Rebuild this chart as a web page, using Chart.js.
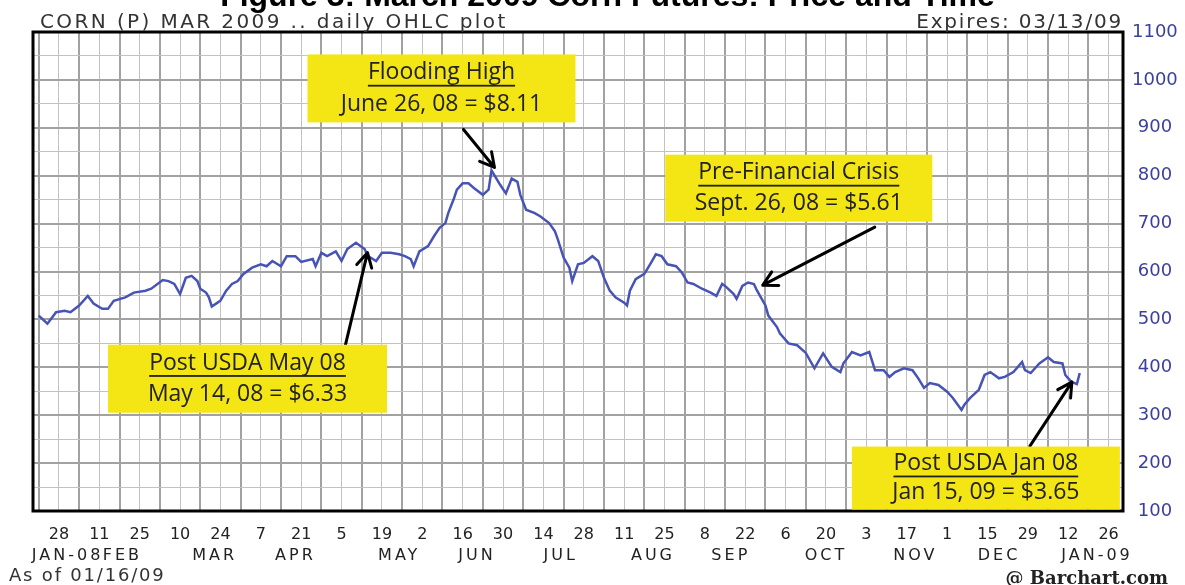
<!DOCTYPE html>
<html>
<head>
<meta charset="utf-8">
<script src="https://cdn.jsdelivr.net/npm/chart.js@4.4.0/dist/chart.umd.min.js"></script>
<style>
body { margin: 0; background: #fff; }
#wrap { position: relative; width: 1185px; height: 585px; overflow: hidden; }
canvas { position: absolute; left: 0; top: 0; }
.lbl { position: absolute; white-space: nowrap; line-height: 1; color: #333; font-family: "DejaVu Sans", sans-serif; }
#title { left: 0; width: 1215px; text-align: center; top: -23px; font: bold 32px "Liberation Sans", Arial, sans-serif; color: #000; }
#head { left: 40px; top: 11px; font-size: 20px; letter-spacing: 2.4px; }
#exp { right: 62px; top: 11px; font-size: 20px; letter-spacing: 1.8px; }
#asof { left: 9px; top: 566px; font-size: 18px; letter-spacing: 1.8px; }
#bc { right: 17px; top: 567px; font: bold 18px "DejaVu Serif", serif; color: #222; }
</style>
</head>
<body>
<div id="wrap">
  <canvas id="chart" width="1185" height="585"></canvas>
  <div class="lbl" id="title">Figure 3: March 2009 Corn Futures: Price and Time</div>
  <div class="lbl" id="head">CORN (P) MAR 2009 .. daily OHLC plot</div>
  <div class="lbl" id="exp">Expires: 03/13/09</div>
  <div class="lbl" id="asof">As of 01/16/09</div>
  <div class="lbl" id="bc">@ Barchart.com</div>
</div>
<script>
// price in cents/bushel
const priceDates = [
  "01/21/08","01/24/08","01/27/08","01/30/08","02/01/08","02/04/08","02/07/08","02/09/08","02/12/08","02/14/08",
  "02/16/08","02/20/08","02/23/08","02/27/08","02/29/08","03/04/08","03/06/08","03/08/08","03/10/08","03/12/08",
  "03/14/08","03/16/08","03/17/08","03/19/08","03/20/08","03/21/08","03/23/08","03/24/08","03/26/08","03/28/08",
  "03/30/08","04/01/08","04/04/08","04/07/08","04/09/08","04/11/08","04/14/08","04/16/08","04/19/08","04/21/08",
  "04/25/08","04/26/08","04/28/08","04/30/08","05/03/08","05/05/08","05/07/08","05/10/08","05/13/08","05/14/08",
  "05/17/08","05/19/08","05/22/08","05/25/08","05/27/08","05/29/08","05/30/08","06/01/08","06/04/08","06/06/08",
  "06/08/08","06/10/08","06/11/08","06/13/08","06/14/08","06/16/08","06/18/08","06/20/08","06/23/08","06/25/08",
  "06/26/08","06/29/08","07/01/08","07/03/08","07/05/08","07/06/08","07/08/08","07/11/08","07/13/08","07/16/08",
  "07/18/08","07/19/08","07/21/08","07/23/08","07/24/08","07/26/08","07/28/08","07/31/08","08/02/08","08/04/08",
  "08/06/08","08/08/08","08/11/08","08/12/08","08/13/08","08/15/08","08/18/08","08/20/08","08/22/08","08/24/08",
  "08/26/08","08/29/08","08/31/08","09/02/08","09/04/08","09/07/08","09/10/08","09/12/08","09/14/08","09/15/08",
  "09/18/08","09/19/08","09/21/08","09/23/08","09/25/08","09/26/08","09/29/08","09/30/08","10/03/08","10/04/08",
  "10/07/08","10/10/08","10/13/08","10/16/08","10/19/08","10/22/08","10/25/08","10/26/08","10/29/08","11/01/08",
  "11/04/08","11/06/08","11/09/08","11/11/08","11/13/08","11/16/08","11/19/08","11/21/08","11/23/08","11/25/08",
  "11/28/08","12/01/08","12/03/08","12/06/08","12/07/08","12/09/08","12/12/08","12/14/08","12/16/08","12/19/08",
  "12/21/08","12/24/08","12/27/08","12/28/08","12/30/08","01/02/09","01/05/09","01/07/09","01/10/09","01/11/09",
  "01/13/09","01/15/09","01/16/09"
];
const prices = [
  508,491,515,518,515,529,549,533,522,522,
  539,546,556,560,564,582,580,574,553,587,
  591,580,564,556,546,527,535,539,560,574,
  580,595,608,615,611,622,611,632,632,620,
  626,611,639,632,642,622,647,660,647,633,
  622,639,639,636,632,626,611,642,653,673,
  691,701,722,753,771,784,784,774,760,771,
  811,781,763,794,787,760,729,722,715,701,
  684,667,629,608,580,615,618,632,622,587,
  560,546,535,529,560,584,595,615,636,632,
  615,611,598,577,574,564,556,549,574,570,
  553,543,570,577,574,561,529,508,484,471,
  450,446,430,398,429,401,390,408,432,425,
  432,394,394,380,390,398,394,377,357,367,
  363,349,336,311,322,336,353,384,390,377,
  380,390,411,394,388,408,421,411,408,384,
  370,365,388
];

const xTickDates = ["01/28/08","02/11/08","02/25/08","03/10/08","03/24/08","04/07/08","04/21/08","05/05/08","05/19/08",
  "06/02/08","06/16/08","06/30/08","07/14/08","07/28/08","08/11/08","08/25/08","09/08/08","09/22/08","10/06/08",
  "10/20/08","11/03/08","11/17/08","12/01/08","12/15/08","12/29/08","01/12/09","01/26/09"];
const xTickLabels = ["28","11","25","10","24","7","21","5","19","2","16","30","14","28","11","25","8","22","6","20",
  "3","17","1","15","29","12","26"];
const monthLabelDates = ["01/31/08","02/19/08","03/22/08","04/19/08","05/25/08","06/21/08","07/20/08","08/21/08",
  "09/17/08","10/20/08","11/20/08","12/19/08","01/22/09"];
const monthLabels = ["JAN-08","FEB","MAR","APR","MAY","JUN","JUL","AUG","SEP","OCT","NOV","DEC","JAN-09"];
const yTicks = [100,200,300,400,500,600,700,800,900,1000,1100];

const noteDates = ["06/26/08","09/26/08","05/14/08","01/15/09"];
const notePrices = [811,561,633,365];
const noteTitles = ["Flooding High","Pre-Financial Crisis","Post USDA May 08","Post USDA Jan 08"];
const noteTexts = ["June 26, 08 = $8.11","Sept. 26, 08 = $5.61","May 14, 08 = $6.33","Jan 15, 09 = $3.65"];

// box / arrow placement in px, relative to the annotated point
const noteLayout = [
  { tip: [3, -3], tail: [-28, -41], box: [-50, -82], size: [268, 68] },
  { tip: [6, -5], tail: [118, -63], box: [42, -102], size: [267, 67] },
  { tip: [0, -3], tail: [-22, 89], box: [-120, 123], size: [279, 68] },
  { tip: [-5, -2], tail: [-47, 62], box: [-91, 94], size: [268, 63] }
];

const dayOf = s => {
  const [m, d, y] = s.split("/").map(Number);
  return (Date.UTC(2000 + y, m - 1, d) - Date.UTC(2008, 0, 28)) / 864e5;
};
const xMin = dayOf("01/19/08"), xMax = dayOf("01/31/09");
const tickDays = xTickDates.map(dayOf);

const notesPlugin = {
  id: "notes",
  afterDatasetsDraw(chart) {
    const { ctx, chartArea: a, scales: { x, y } } = chart;
    ctx.save();
    ctx.strokeStyle = "#000";
    ctx.lineWidth = 3;
    ctx.strokeRect(a.left, a.top, a.right - a.left, a.bottom - a.top);

    noteDates.forEach((d, i) => {
      const L = noteLayout[i];
      const px = x.getPixelForValue(dayOf(d)), py = y.getPixelForValue(notePrices[i]);
      const tipX = px + L.tip[0], tipY = py + L.tip[1];
      const tailX = px + L.tail[0], tailY = py + L.tail[1];
      // arrow
      ctx.strokeStyle = "#000";
      ctx.lineWidth = 3;
      ctx.lineCap = "round";
      ctx.beginPath();
      ctx.moveTo(tailX, tailY);
      ctx.lineTo(tipX, tipY);
      const ang = Math.atan2(tipY - tailY, tipX - tailX);
      for (const s of [-0.5, 0.5]) {
        ctx.moveTo(tipX, tipY);
        ctx.lineTo(tipX - 16 * Math.cos(ang + s), tipY - 16 * Math.sin(ang + s));
      }
      ctx.stroke();
      // box
      const [w, h] = L.size;
      const cx = px + L.box[0], cy = py + L.box[1];
      const top = cy - h / 2;
      ctx.fillStyle = "#f4e514";
      ctx.fillRect(cx - w / 2, top, w, h);
      ctx.fillStyle = "#222";
      ctx.font = '23px "Open Sans"';
      ctx.textAlign = "center";
      ctx.textBaseline = "middle";
      const y1 = top + h * 0.27, y2 = top + h * 0.73;
      ctx.fillText(noteTitles[i], cx, y1);
      ctx.fillText(noteTexts[i], cx, y2);
      const tw = ctx.measureText(noteTitles[i]).width;
      ctx.fillRect(cx - tw / 2, y1 + 12, tw, 1.8);
    });
    ctx.restore();
    // month axis labels are drawn after this (ticks.z = 1) with wider letters
    ctx.letterSpacing = "3px";
  },
  afterDraw(chart) {
    chart.ctx.letterSpacing = "0px";
  }
};

new Chart(document.getElementById("chart"), {
  type: "line",
  data: {
    datasets: [{
      data: priceDates.map((d, i) => ({ x: dayOf(d), y: prices[i] })),
      borderColor: "#4753b5",
      borderWidth: 2.5,
      pointRadius: 0,
      tension: 0
    }]
  },
  options: {
    responsive: false,
    animation: false,
    layout: { padding: { left: 33, top: 32, right: 0, bottom: 22 } },
    plugins: { legend: { display: false }, tooltip: { enabled: false } },
    scales: {
      x: {
        type: "linear", position: "bottom", weight: 0, min: xMin, max: xMax,
        border: { display: false },
        grid: {
          drawTicks: false,
          color: c => (c.tick && tickDays.includes(c.tick.value)) ? "#c2c2c2" : "#a2a2a2",
          lineWidth: c => (c.tick && tickDays.includes(c.tick.value)) ? 1 : 2
        },
        ticks: {
          autoSkip: false, maxRotation: 0, padding: 14, color: "#222",
          font: { family: "DejaVu Sans", size: 16 },
          callback: v => { const i = tickDays.indexOf(v); return i >= 0 ? xTickLabels[i] : ""; }
        },
        afterBuildTicks: s => {
          s.ticks = [];
          for (let v = -7; v <= xMax; v += 7) s.ticks.push({ value: v });
        },
        afterFit: s => { s.height = 32; }
      },
      months: {
        type: "linear", position: "bottom", weight: 1, min: xMin, max: xMax,
        border: { display: false },
        grid: { display: false, drawTicks: false },
        ticks: {
          z: 1, autoSkip: false, maxRotation: 0, padding: 3, color: "#222",
          font: { family: "DejaVu Sans", size: 16 },
          callback: (v, i) => monthLabels[i]
        },
        afterBuildTicks: s => { s.ticks = monthLabelDates.map(d => ({ value: dayOf(d) })); },
        afterFit: s => { s.height = 20; }
      },
      y: {
        type: "linear", position: "right", min: 100, max: 1100,
        border: { display: false },
        grid: {
          drawTicks: false,
          color: c => (c.tick && c.tick.value % 100 === 0) ? "#a2a2a2" : "#c2c2c2",
          lineWidth: c => (c.tick && c.tick.value % 100 === 0) ? 2 : 1
        },
        ticks: {
          stepSize: 50, autoSkip: false, crossAlign: "center", padding: 9,
          color: "#3b3f9e", font: { family: "DejaVu Sans", size: 18 },
          callback: v => yTicks.includes(v) ? String(v) : ""
        },
        afterFit: s => { s.width = 62; }
      }
    }
  },
  plugins: [notesPlugin]
});
</script>
</body>
</html>
